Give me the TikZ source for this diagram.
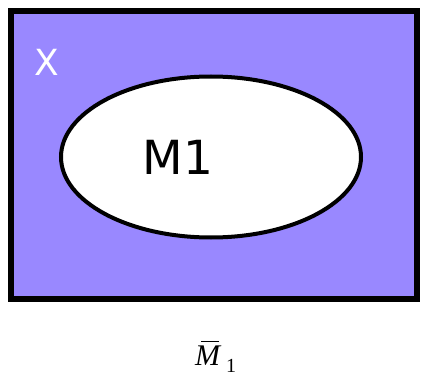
\documentclass[tikz,border=0pt]{standalone}
\usepackage{fontspec}
\newfontfamily\vsans{DejaVu Sans}
\newfontfamily\tserif{Liberation Serif}
\usetikzlibrary{shapes.geometric}
\definecolor{setfill}{RGB}{153,136,255}
\tikzset{
  setbox/.style={draw=black, line width=6pt, fill=setfill},
  setellipse/.style={draw=black, line width=4pt, fill=white, ellipse, inner sep=0pt,
    minimum width=300pt, minimum height=161pt},
  settext/.style={font=\vsans\fontsize{36}{40}\selectfont, text=white, inner sep=0pt},
  mtext/.style={font=\vsans\fontsize{47}{52}\selectfont, text=black, inner sep=0pt},
  captext/.style={font=\tserif\fontsize{30}{34}\selectfont, text=black, inner sep=0pt}
}
\begin{document}
\begin{tikzpicture}[x=1pt,y=-1pt]
\useasboundingbox (0,0) rectangle (431,385);
\draw[setbox] (11,11) rectangle (417,299);
\node[settext] (X) at (47,62) {X};
\node[setellipse] (E) at (211,157) {};
\node[mtext] (M) at (178,157) {M1};
\node[captext, anchor=base west] (L) at (195,365) {\itshape M};
\node[captext, anchor=base west, font=\tserif\fontsize{20}{24}\selectfont] (S) at (226,372) {1};
\draw[line width=1.2pt] ([xshift=6pt,yshift=4pt]L.north west) -- ([xshift=-1pt,yshift=4pt]L.north east);
\end{tikzpicture}
\end{document}
